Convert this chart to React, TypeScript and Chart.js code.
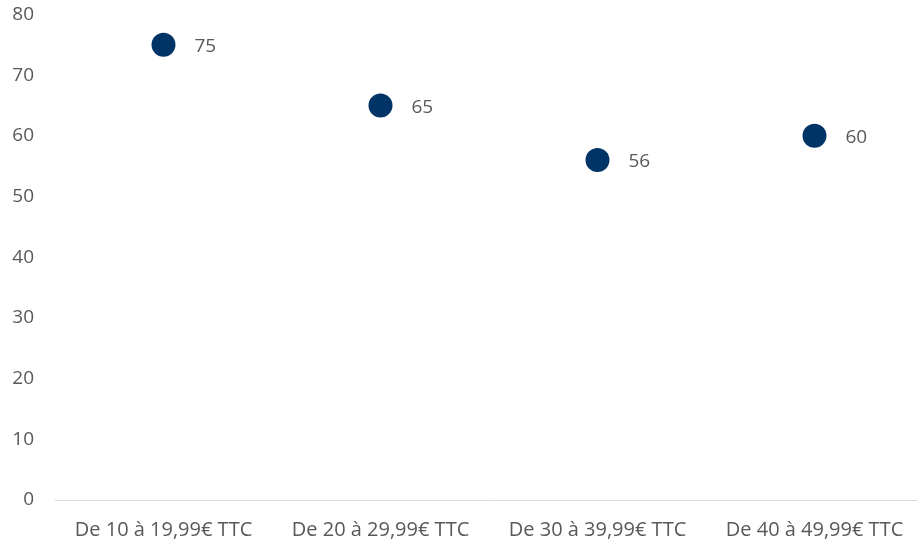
import React, { useEffect, useRef } from "react";
import { Chart, registerables } from "chart.js";

Chart.register(...registerables);

const categories = [
  "De 10 à 19,99€ TTC",
  "De 20 à 29,99€ TTC",
  "De 30 à 39,99€ TTC",
  "De 40 à 49,99€ TTC",
];
const values = [75, 65, 56, 60];
const yTicks = { min: 0, max: 80, step: 10 };

const FONT = "'Open Sans', 'Noto Sans', sans-serif";
const TEXT = "#595959";
const POINT = "#003366";

const labelPlugin = {
  id: "pointLabels",
  afterDatasetsDraw(chart: any) {
    const ctx = chart.ctx;
    const meta = chart.getDatasetMeta(0);
    ctx.save();
    ctx.font = `19px ${FONT}`;
    ctx.fillStyle = TEXT;
    ctx.textAlign = "left";
    ctx.textBaseline = "middle";
    meta.data.forEach((el: any, i: number) => {
      ctx.fillText(String(values[i]), el.x + 31, el.y + 2);
    });
    ctx.restore();
  },
};

export default function App() {
  const ref = useRef<HTMLCanvasElement>(null);
  useEffect(() => {
    if (!ref.current) return;
    const chart = new Chart(ref.current, {
      type: "line",
      data: {
        labels: categories,
        datasets: [
          {
            data: values,
            showLine: false,
            pointRadius: 12,
            pointHoverRadius: 12,
            pointBackgroundColor: POINT,
            pointBorderColor: POINT,
            pointBorderWidth: 0,
            clip: false,
          },
        ],
      },
      options: {
        animation: false,
        responsive: false,
        maintainAspectRatio: false,
        layout: { autoPadding: false, padding: { top: 14, right: 0, left: 0, bottom: 0 } },
        plugins: { legend: { display: false }, tooltip: { enabled: false } },
        scales: {
          x: {
            offset: true,
            grid: { display: false, drawTicks: false },
            border: { display: true, color: "#d9d9d9", width: 1 },
            ticks: {
              color: TEXT,
              font: { family: FONT, size: 20 },
              padding: 18,
              maxRotation: 0,
              autoSkip: false,
            },
            afterFit: (s: any) => {
              s.height = 49;
            },
          },
          y: {
            min: yTicks.min,
            max: yTicks.max,
            grid: { display: false, drawTicks: false },
            border: { display: false },
            ticks: {
              stepSize: yTicks.step,
              color: TEXT,
              font: { family: FONT, size: 19 },
              padding: 21,
            },
            afterFit: (s: any) => {
              s.width = 55;
            },
          },
        },
      },
      plugins: [labelPlugin],
    });
    return () => chart.destroy();
  }, []);
  return (
    <div
      style={{
        position: "fixed",
        left: 0,
        top: 0,
        width: 917,
        height: 549,
        background: "#fff",
        overflow: "hidden",
      }}
    >
      <canvas
        ref={ref}
        width={923}
        height={567}
        style={{ position: "absolute", left: 0, top: -18 }}
      />
    </div>
  );
}
